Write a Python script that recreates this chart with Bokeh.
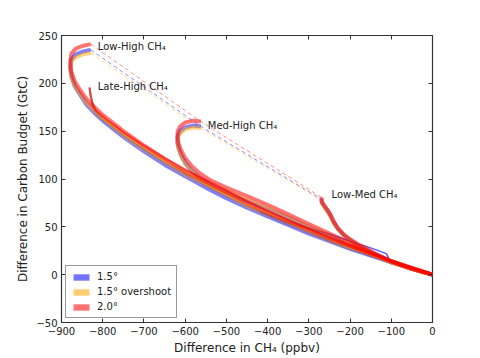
from bokeh.plotting import figure
from bokeh.models import Range1d, LinearAxis, FixedTicker, Legend, LegendItem
from bokeh.core.properties import value
from bokeh.embed import file_html
from bokeh.resources import INLINE

# ---- data ----
x_ticks = [-900, -800, -700, -600, -500, -400, -300, -200, -100, 0]
y_ticks = [-50, 0, 50, 100, 150, 200, 250]

# Low-High CH4 pathway
lh_x = [-829, -850, -866, -876, -879, -876, -868, -855, -840, -820, -800, -750, -700, -650,
        -600, -550, -500, -450, -400, -350, -300, -250, -200, -150, -100, -50, 0]
lh_red = [241, 239, 236, 231, 222, 212, 202, 193, 184, 175, 167, 150, 135, 121,
          108, 97, 86, 75, 65, 56, 47, 38, 30, 22, 14, 7, 0]
lh_blue = [235, 233, 230, 225, 217, 207, 197, 188, 178, 169, 161, 144, 129, 115,
           103, 91, 80, 70, 61, 52, 43, 35, 27, 20, 13, 6, 0]
lh_orange = [232, 230, 227, 223, 215, 206, 197, 189, 180, 171, 163, 146, 131, 118,
             105, 94, 83, 72, 63, 54, 45, 36, 28, 21, 13, 6, 0]

# Late-High CH4 pathway
lt_x = [-832, -829, -824, -816, -800, -750, -700, -650, -600, -550, -500, -450, -400,
        -350, -300, -250, -200, -150, -100, -50, 0]
lt_red = [196, 187, 178, 171, 165, 149, 135, 122, 110, 99, 88, 77, 67, 57, 48, 39, 30, 22, 14, 7, 0]
lt_blue = [195, 186, 176, 169, 162, 146, 131, 117, 105, 93, 82, 72, 62, 53, 44, 35, 27, 20, 13, 6, 0]
lt_orange = [195, 186, 177, 170, 163, 147, 133, 119, 107, 95, 84, 73, 64, 55, 46, 37, 28, 21, 13, 6, 0]

# Med-High CH4 pathway
mh_x = [-562, -580, -600, -612, -618, -619, -616, -610, -600, -585, -565, -540, -500, -450,
        -400, -350, -300, -250, -200, -150, -100, -50, 0]
mh_red = [160, 161, 159, 155, 150, 144, 137, 130, 122, 114, 106, 99, 91, 82,
          73, 63, 53, 43, 33, 23, 14, 7, 0]
mh_blue = [155, 156, 154, 150, 145, 139, 132, 125, 117, 109, 101, 94, 86, 77,
           68, 59, 49, 40, 30, 21, 13, 6, 0]
mh_orange = [153, 154, 152, 148, 143, 137, 131, 124, 116, 108, 101, 94, 87, 78,
             69, 60, 50, 41, 31, 22, 13, 6, 0]

# Low-Med CH4 pathway
lm_x = [-270, -268, -262, -255, -248, -240, -230, -215, -200, -182, -160, -140, -120,
        -100, -75, -50, -25, 0]
lm_red = [81, 76, 72, 68, 63, 56, 49, 42, 37, 32, 27, 22, 18, 14, 10, 6, 3, 0]
lm_blue = [79, 75, 71, 67, 62, 55, 48, 41, 36, 31, 26, 22, 18, 14, 10, 6, 3, 0]
lm_orange = [78, 74, 70, 66, 61, 54, 48, 41, 36, 31, 26, 21, 17, 14, 10, 6, 3, 0]

# 1.5 degree branch that leaves the bundle and steps down near -105
br_x = [-420, -380, -330, -280, -247, -200, -150, -112, -106, -101, -75, -50, -25, 0]
br_blue = [66, 59, 52, 46, 42, 35, 28, 22, 17, 14, 10, 6, 3, 0]

# dashed connectors between pathway starting points
dash_x = [-829, -562, -270]
dash_red = [241, 160, 81]
dash_blue = [235, 155, 79]
dash_orange = [232, 153, 78]

series_labels = ["1.5\u00b0", "1.5\u00b0 overshoot", "2.0\u00b0"]
colors = ["blue", "orange", "red"]

labels_text = ["Low-High  CH\u2084", "Late-High  CH\u2084", "Med-High CH\u2084", "Low-Med CH\u2084"]
labels_x = [-812, -812, -545, -245]
labels_y = [238, 197, 156, 84]

FONT = "DejaVu Sans"

p = figure(frame_width=371, frame_height=287, output_backend="svg", toolbar_location=None,
           x_range=Range1d(-900, 0), y_range=Range1d(-50, 250),
           min_border_left=61, min_border_top=35, min_border_right=40, min_border_bottom=30,
           background_fill_color="white", border_fill_color="white")
p.grid.visible = False
p.outline_line_color = "#333333"
p.outline_line_width = 1.2

def minus(v):
    return str(v).replace("-", "\u2212")

p.xaxis.ticker = FixedTicker(ticks=x_ticks)
p.yaxis.ticker = FixedTicker(ticks=y_ticks)
p.xaxis.major_label_overrides = {t: minus(t) for t in x_ticks}
p.yaxis.major_label_overrides = {t: minus(t) for t in y_ticks}
p.xaxis.axis_label = "Difference in CH\u2084 (ppbv)"
p.yaxis.axis_label = "Difference in Carbon Budget (GtC)"

for ax in [p.xaxis[0], p.yaxis[0]]:
    ax.major_tick_in = 4
    ax.major_tick_out = 0
    ax.minor_tick_line_color = None
    ax.axis_line_color = None
    ax.major_tick_line_color = "#333333"
    ax.major_label_text_font = FONT
    ax.major_label_text_font_size = "10px"
    ax.major_label_text_color = "#222222"
    ax.axis_label_text_font = FONT
    ax.axis_label_text_font_size = "12px"
    ax.axis_label_text_font_style = "normal"
    ax.axis_label_text_color = "#222222"
    ax.major_label_standoff = 4
    ax.axis_label_standoff = 3

top = LinearAxis(ticker=FixedTicker(ticks=x_ticks), major_tick_in=4, major_tick_out=0,
                 minor_tick_line_color=None, axis_line_color=None, major_label_text_color=None,
                 major_tick_line_color="#333333", major_label_text_font_size="1px")
right = LinearAxis(ticker=FixedTicker(ticks=y_ticks), major_tick_in=4, major_tick_out=0,
                   minor_tick_line_color=None, axis_line_color=None, major_label_text_color=None,
                   major_tick_line_color="#333333", major_label_text_font_size="1px")
p.add_layout(top, "above")
p.add_layout(right, "right")

# dashed connectors
for yy, c in [(dash_red, "red"), (dash_blue, "blue"), (dash_orange, "orange")]:
    p.line(dash_x, yy, line_color=c, line_dash="4 3", line_width=1, line_alpha=0.45)

# bands
LW = 4.0
band_sets = {
    "blue": [(lh_x, lh_blue), (lt_x, lt_blue), (mh_x, mh_blue), (lm_x, lm_blue)],
    "orange": [(lh_x, lh_orange), (lt_x, lt_orange), (mh_x, mh_orange), (lm_x, lm_orange)],
    "red": [(lh_x, lh_red), (lt_x, lt_red), (mh_x, mh_red), (lm_x, lm_red)],
}
alphas = {"blue": 0.5, "orange": 0.5, "red": 0.55}
for c in colors:
    for i, (xs, ys) in enumerate(band_sets[c]):
        w = 2.0 if i == 1 else LW
        p.line(xs, ys, line_color=c, line_width=w, line_alpha=alphas[c], line_join="round")
    if c == "blue":
        p.line(br_x, br_blue, line_color="blue", line_width=1.5, line_alpha=0.65, line_join="round")

# annotations
p.text(x=labels_x, y=labels_y, text=labels_text, text_font=value(FONT),
       text_font_size="10px", text_baseline="middle", text_align="left", text_color="#222222")

# legend: hidden area renderers built from each series give rectangular swatches
items = []
for lab, c in zip(series_labels, colors):
    xs, ys = band_sets[c][0]
    r = p.varea(x=xs, y1=ys, y2=ys, fill_color=c, fill_alpha=0.55, visible=False)
    items.append(LegendItem(label=lab, renderers=[r]))
leg = Legend(items=items, location="bottom_left", margin=4, padding=5, spacing=4,
             glyph_width=20, glyph_height=8, label_height=10, label_standoff=6,
             label_text_font=FONT, label_text_font_size="10px", label_text_color="#222222",
             border_line_color="#333333", border_line_width=1, background_fill_alpha=1.0)
p.add_layout(leg, "center")

open("out.html", "w").write(file_html(p, INLINE))
